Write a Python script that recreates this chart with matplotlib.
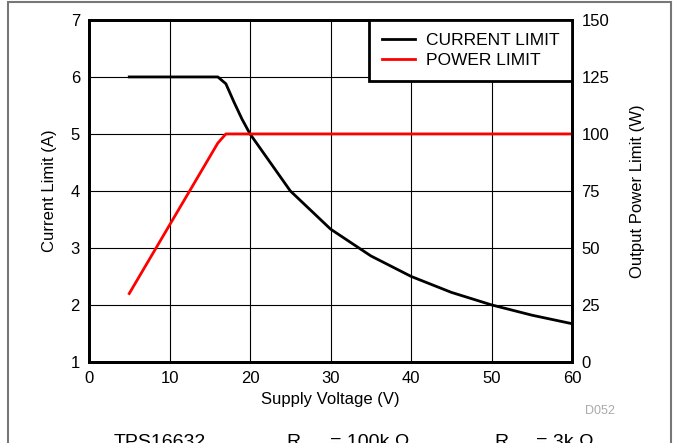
import matplotlib
matplotlib.use('Agg')
import matplotlib.pyplot as plt
from matplotlib.patches import Rectangle

plt.rcParams['font.family'] = ['Liberation Sans', 'DejaVu Sans']

# supply voltage (V)
volt = [5, 16, 17, 18, 19, 20, 25, 30, 35, 40, 45, 50, 55, 60]
# current limit (A)
current = [6.0, 6.0, 5.88, 5.56, 5.26, 5.0, 4.0, 3.33, 2.86, 2.5, 2.22, 2.0, 1.82, 1.67]
# power limit (W)
power = [30, 96, 100, 100, 100, 100, 100, 100, 100, 100, 100, 100, 100, 100]

fig = plt.figure(figsize=(6.74, 4.43), dpi=100)
ax = fig.add_axes([0.132, 0.183, 0.717, 0.772])
ax2 = ax.twinx()

l1, = ax.plot(volt, current, color='black', lw=2, label='CURRENT LIMIT')
l2, = ax2.plot(volt, power, color='red', lw=2, label='POWER LIMIT')

ax.set_xlim(0, 60)
ax.set_ylim(1, 7)
ax2.set_ylim(0, 150)
ax.set_xticks(range(0, 61, 10))
ax.set_yticks(range(1, 8))
ax2.set_yticks(range(0, 151, 25))
ax.grid(True, color='black', lw=0.8)
ax.set_axisbelow(True)

ax.set_xlabel('Supply Voltage (V)', fontsize=12)
ax.set_ylabel('Current Limit (A)', fontsize=12, labelpad=10)
ax2.set_ylabel('Output Power Limit (W)', fontsize=12, labelpad=15)
for a in (ax, ax2):
    a.tick_params(labelsize=12, length=0, pad=6.5)
    for s in a.spines.values():
        s.set_linewidth(2)

leg = ax2.legend(handles=[l1, l2], loc='upper right', fontsize=12.5,
                 fancybox=False, framealpha=1, edgecolor='black',
                 borderaxespad=0, handlelength=1.9, handletextpad=0.6,
                 borderpad=0.75, labelspacing=0.3)
leg.get_frame().set_linewidth(2)

fig.text(0.868, 0.065, 'D052', color='#aaaaaa', fontsize=9)

# cut-off caption at the bottom
fig.text(0.168, -0.01, 'TPS16632', fontsize=14)
fig.text(0.425, -0.01, 'R', fontsize=14)
fig.text(0.49, -0.01, '= 100k \u03a9', fontsize=14)
fig.text(0.733, -0.01, 'R', fontsize=14)
fig.text(0.795, -0.01, '= 3k \u03a9', fontsize=14)

fig.patches.append(Rectangle((8 / 674, -0.1), 663 / 674, 1.1 - 2 / 443,
                             transform=fig.transFigure, fill=False,
                             edgecolor='#777777', lw=1.5))

fig.savefig('out.png', dpi=100)
